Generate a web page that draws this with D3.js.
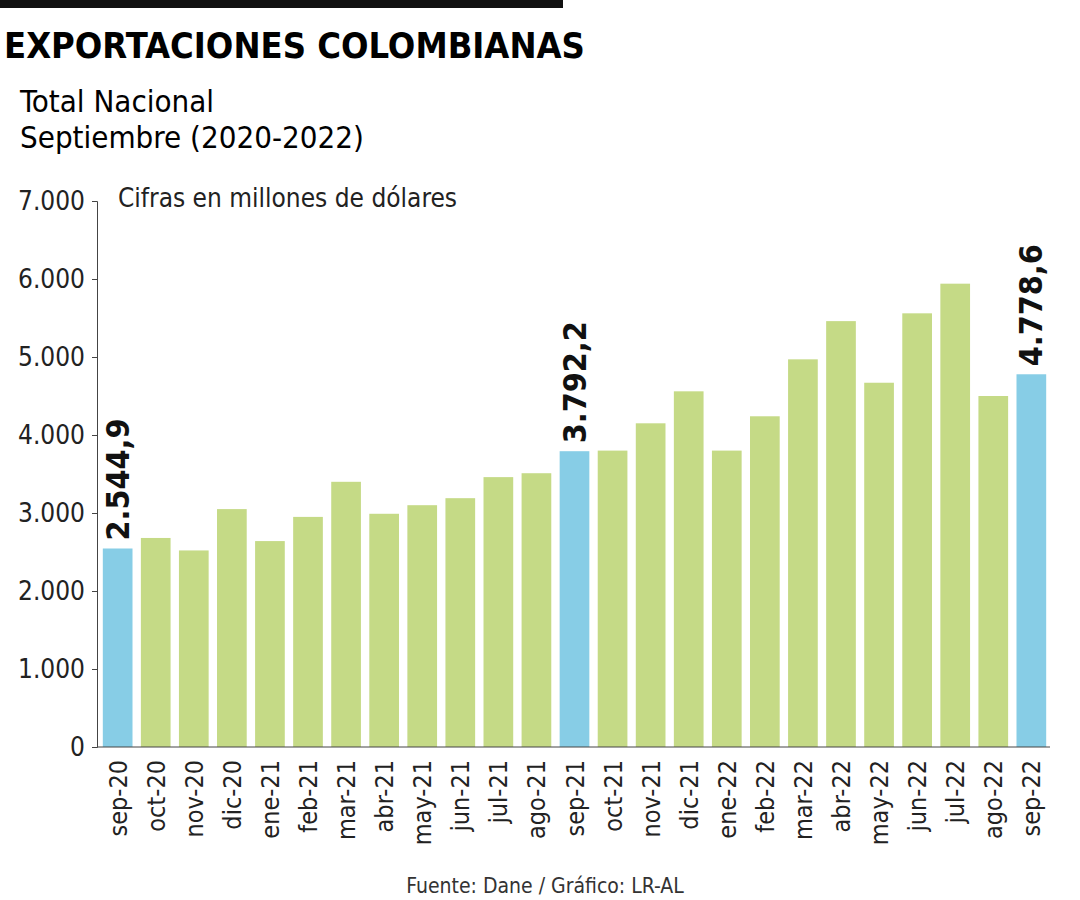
<!DOCTYPE html>
<html><head><meta charset="utf-8">
<script src="https://cdn.jsdelivr.net/npm/d3@7"></script>
<style>
body{margin:0;background:#fff}
text{font-family:"Liberation Sans Narrow","DejaVu Sans Condensed",sans-serif}
</style></head>
<body><div id="chart"></div>
<script>
var months = ["sep-20","oct-20","nov-20","dic-20","ene-21","feb-21","mar-21","abr-21","may-21","jun-21","jul-21","ago-21",
  "sep-21","oct-21","nov-21","dic-21","ene-22","feb-22","mar-22","abr-22","may-22","jun-22","jul-22","ago-22","sep-22"];
var values = [2544.9,2680,2520,3050,2640,2950,3400,2990,3100,3190,3460,3510,
  3792.2,3800,4150,4560,3800,4240,4970,5460,4670,5560,5940,4500,4778.6];
var highlighted = ["sep-20","sep-21","sep-22"];
var labels = {"sep-20":"2.544,9","sep-21":"3.792,2","sep-22":"4.778,6"};
var yTicks = [0,1000,2000,3000,4000,5000,6000,7000];

var W = 1080, H = 900;
var svg = d3.select("#chart").append("svg").attr("width", W).attr("height", H);

svg.append("rect").attr("x",0).attr("y",0).attr("width",563).attr("height",8).attr("fill","#111");
svg.append("text").attr("x",4).attr("y",58).attr("font-size",36).attr("font-weight","bold").text("EXPORTACIONES COLOMBIANAS");
svg.append("text").attr("x",20).attr("y",112).attr("font-size",31).text("Total Nacional");
svg.append("text").attr("x",20).attr("y",148).attr("font-size",31).text("Septiembre (2020-2022)");

var x = d3.scaleBand().domain(months).range([99, 1050]).paddingInner(0.22).paddingOuter(0.1);
var y = d3.scaleLinear().domain([0,7000]).range([747, 201]);
var fmt = d3.formatLocale({decimal:",",thousands:".",grouping:[3]}).format(",.0f");

svg.append("g").attr("transform","translate(97,0)")
  .call(d3.axisLeft(y).tickValues(yTicks).tickSize(5).tickFormat(fmt))
  .call(g => g.selectAll("text").attr("font-size",26).attr("fill","#222").attr("dx",-4))
  .call(g => g.select(".domain").attr("stroke","#444"))
  .call(g => g.selectAll(".tick line").attr("stroke","#444"));

svg.append("text").attr("x",118).attr("y",207).attr("font-size",26).attr("fill","#222").text("Cifras en millones de dólares");

svg.selectAll(".bar").data(months).enter().append("rect")
  .attr("x", d => x(d)).attr("width", x.bandwidth())
  .attr("y", (d,i) => y(values[i])).attr("height", (d,i) => y(0) - y(values[i]))
  .attr("fill", d => highlighted.includes(d) ? "#87cde6" : "#c5da86");

svg.append("line").attr("x1",97).attr("x2",1050).attr("y1",747).attr("y2",747).attr("stroke","#444");

svg.selectAll(".lab").data(months.filter(d => labels[d])).enter().append("text")
  .attr("transform", d => "translate(" + (x(d)+x.bandwidth()/2+11) + "," + (y(values[months.indexOf(d)])-8) + ") rotate(-90)")
  .attr("font-size",32).attr("font-weight","bold").attr("fill","#111").text(d => labels[d]);

svg.selectAll(".xl").data(months).enter().append("text")
  .attr("transform", d => "translate(" + (x(d)+x.bandwidth()/2+9) + ",760) rotate(-90)")
  .attr("text-anchor","end").attr("font-size",25).attr("fill","#222").text(d => d);

svg.append("text").attr("x",545).attr("y",893).attr("text-anchor","middle").attr("font-size",21).attr("fill","#333")
  .text("Fuente: Dane / Gráfico: LR-AL");
</script></body></html>
